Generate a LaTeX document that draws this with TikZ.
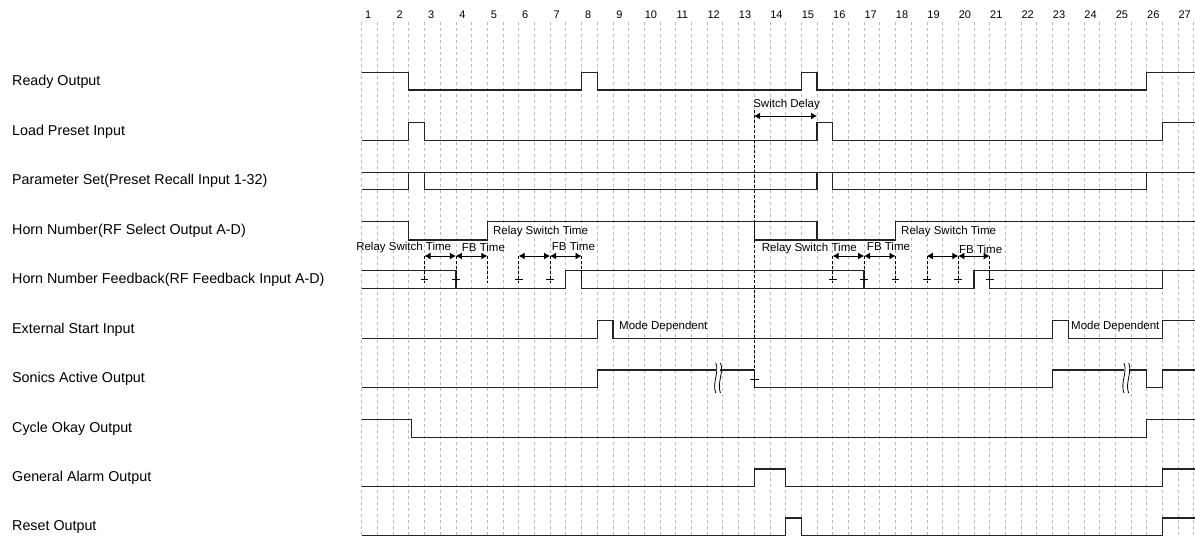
\documentclass[tikz,border=0pt]{standalone}
\usepackage{fontspec}
\setmainfont{Liberation Sans}
\usetikzlibrary{arrows.meta}
\definecolor{gridcolor}{RGB}{185,185,185}
\definecolor{sigcolor}{RGB}{35,35,35}

\begin{document}
\begin{tikzpicture}[
    x=1pt, y=-1pt,
    signame/.style={anchor=west, inner sep=0pt, font=\fontsize{14.3}{16}\selectfont},
    numlabel/.style={inner sep=0pt, font=\fontsize{11}{13}\selectfont},
    note/.style={anchor=west, inner sep=0pt, font=\fontsize{11.5}{14}\selectfont},
    gridline/.style={gridcolor, line width=0.8pt, dash pattern=on 3pt off 3pt},
    wave/.style={sigcolor, line width=1.3pt},
    marker/.style={black, line width=0.8pt, dash pattern=on 3pt off 2pt},
    span/.style={{Latex[length=6pt,width=7pt]}-{Latex[length=6pt,width=7pt]}, line width=0.9pt},
    cross/.style={black, line width=0.8pt}
]
    \useasboundingbox (0,0) rectangle (1195,538);

    % Signal names
    \node[signame] (ready)    at (12,81.4)  {Ready Output};
    \node[signame] (load)     at (12,131.7) {Load Preset Input};
    \node[signame] (param)    at (12,180.8) {Parameter Set(Preset Recall Input 1-32)};
    \node[signame] (horn)     at (12,230.9) {Horn Number(RF Select Output A-D)};
    \node[signame] (hornfb)   at (12,279.5) {Horn Number Feedback(RF Feedback Input A-D)};
    \node[signame] (extstart) at (12,329.5) {External Start Input};
    \node[signame] (sonics)   at (12,378.9) {Sonics Active Output};
    \node[signame] (cycleok)  at (12,428.3) {Cycle Okay Output};
    \node[signame] (alarm)    at (12,477.9) {General Alarm Output};
    \node[signame] (reset)    at (12,526.9) {Reset Output};

    \begin{scope}[xshift=361.7pt, x=15.7pt]
    % Grid and step numbers
    \foreach \i in {0,...,53}
        \draw[gridline] (\i,22) -- (\i,538);
    \foreach \n in {1,...,27}
        \node[numlabel] (step\n) at ({2*\n-1.58},15) {\n};

    % Ready Output
    \draw[wave] (0,72.7) -- (3,72.7) -- (3,90) -- (14,90) -- (14,72.7) -- (15,72.7) -- (15,90)
        -- (28,90) -- (28,72.7) -- (29,72.7) -- (29,90) -- (50,90) -- (50,72.7) -- (53.1,72.7);

    % Load Preset Input
    \draw[wave] (0,140.7) -- (3,140.7) -- (3,122.7) -- (4,122.7) -- (4,140.7) -- (29,140.7)
        -- (29,122.7) -- (30,122.7) -- (30,140.7) -- (51,140.7) -- (51,122.7) -- (53.1,122.7);

    % Parameter Set
    \draw[wave] (0,172.3) -- (53.1,172.3);
    \draw[wave] (0,189.3) -- (3,189.3) -- (3,172.3);
    \draw[wave] (4,172.3) -- (4,189.3) -- (29,189.3) -- (29,172.3);
    \draw[wave] (30,172.3) -- (30,189.3) -- (50,189.3) -- (50,172.3);

    % Horn Number
    \draw[wave] (0,221.7) -- (3,221.7) -- (3,240) -- (8,240) -- (8,221.7) -- (29,221.7)
        -- (29,240) -- (34,240) -- (34,221.7) -- (53.1,221.7);
    \draw[wave] (25,221.7) -- (25,240) -- (29,240);

    % Horn Number Feedback
    \draw[wave] (0,270.7) -- (6,270.7) -- (6,288.3);
    \draw[wave] (0,288.3) -- (13,288.3) -- (13,270.7) -- (32,270.7) -- (32,288.3);
    \draw[wave] (14,270.7) -- (14,288.3) -- (39,288.3) -- (39,270.7) -- (53.1,270.7);
    \draw[wave] (40,270.7) -- (40,288.3) -- (51,288.3) -- (51,270.7);

    % External Start Input
    \draw[wave] (0,338.3) -- (15,338.3) -- (15,320.7) -- (16,320.7) -- (16,338.3) -- (44,338.3)
        -- (44,320.7) -- (45,320.7) -- (45,338.3) -- (51,338.3) -- (51,320.7) -- (53.1,320.7);

    % Sonics Active Output
    \draw[wave] (0,387.7) -- (15,387.7) -- (15,370) -- (22.55,370);
    \draw[wave] (22.85,370) -- (25,370) -- (25,387.7) -- (44,387.7) -- (44,370) -- (48.55,370);
    \draw[wave] (48.85,370) -- (50,370) -- (50,387.7) -- (51,387.7) -- (51,370) -- (53.1,370);
    \foreach \b in {22.55,22.85,48.55,48.85}
        \draw[cross] (\b,363) .. controls (\b+0.25,372) and (\b-0.25,383) .. (\b,393);

    % Cycle Okay Output
    \draw[wave] (0,419.3) -- (3.15,419.3) -- (3.15,437.3) -- (50,437.3) -- (50,419.3) -- (53.1,419.3);

    % General Alarm Output
    \draw[wave] (0,486.7) -- (25,486.7) -- (25,469) -- (27,469) -- (27,486.7) -- (51,486.7)
        -- (51,469) -- (53.1,469);

    % Reset Output
    \draw[wave] (0,535.7) -- (27,535.7) -- (27,518) -- (28,518) -- (28,535.7) -- (51,535.7)
        -- (51,518) -- (53.1,518);

    % Switch delay
    \coordinate (sd1) at (25,116);
    \coordinate (sd2) at (29,116);
    \draw[marker] (25,110) -- (25,388);
    \draw[span] (sd1) -- (sd2);
    \node[inner sep=0pt, font=\fontsize{11.5}{14}\selectfont] (sdlabel) at (27.06,104.3) {Switch Delay};
    \draw[cross] (24.75,379) -- (25.3,379);

    % Relay switch and feedback times
    \foreach \t in {4,6,8,10,12,14,30,32,34,36,38,40}
        \coordinate (m\t) at (\t,256);
    \foreach \t in {4,6,8,10,12,14,30,32,34,36,38,40}
        \draw[marker] (m\t) -- (\t,283);
    \foreach \t in {4,6,10,12,30,32,34,36,38,40}
        \draw[cross] (\t-0.25,279.5) -- (\t+0.25,279.5);
    \draw[span] (m4) -- (m6);
    \draw[span] (m6) -- (m8);
    \draw[span] (m10) -- (m12);
    \draw[span] (m12) -- (m14);
    \draw[span] (m30) -- (m32);
    \draw[span] (m32) -- (m34);
    \draw[span] (m36) -- (m38);
    \draw[span] (m38) -- (m40);

    \node[note] (rst1) at (8.36,232) {Relay Switch Time};
    \node[note] (rst2) at (34.35,232) {Relay Switch Time};
    \node[note] (rst3) at (-0.36,247.7) {Relay Switch Time};
    \node[note] (fb1) at (6.37,247.7) {FB Time};
    \node[note] (fb2) at (12.1,246.7) {FB Time};
    \node[note] (rst4) at (25.48,248.3) {Relay Switch Time};
    \node[note] (fb3) at (32.17,246.7) {FB Time};
    \node[note] (fb4) at (38.04,249) {FB Time};

    % Mode dependent
    \node[note] (mode1) at (16.39,326.7) {Mode Dependent};
    \node[note] (mode2) at (45.18,327) {Mode Dependent};
    \end{scope}
\end{tikzpicture}
\end{document}
